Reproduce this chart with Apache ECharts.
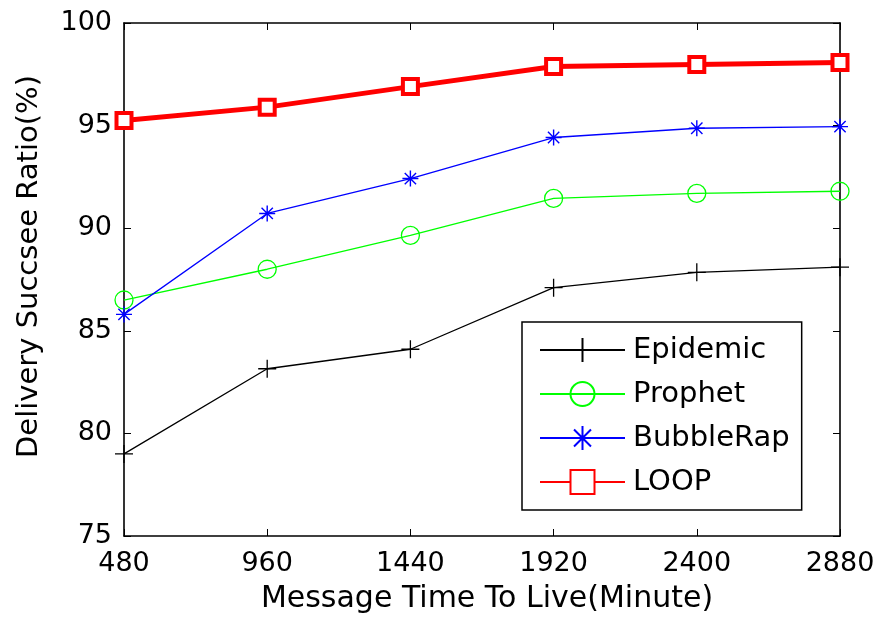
<!DOCTYPE html>
<html>
<head>
<meta charset="utf-8">
<script src="https://cdn.jsdelivr.net/npm/echarts@6/dist/echarts.min.js"></script>
<style>
  html, body { margin: 0; padding: 0; background: #fff; }
  #chart { width: 883px; height: 625px; }
</style>
</head>
<body>
<div id="chart"></div>
<script>
// Message time-to-live values (minutes) on the x axis
const ttl = [480, 960, 1440, 1920, 2400, 2880];

// Delivery success ratio (%) per routing scheme
const epidemic  = [79.0, 83.15, 84.1, 87.1, 87.85, 88.1];
const prophet   = [86.5, 88.0, 89.65, 91.45, 91.7, 91.8];
const bubbleRap = [85.8, 90.72, 92.42, 94.42, 94.87, 94.95];
const loop      = [95.25, 95.9, 96.9, 97.88, 97.98, 98.08];

const FONT = '"DejaVu Sans", "Liberation Sans", Arial, sans-serif';

// Stroked marker outlines
const plusPath = 'path://M0,-10L0,10M-10,0L10,0';
const starPath = 'path://M0,-10L0,10M-10,0L10,0M-7.07,-7.07L7.07,7.07M-7.07,7.07L7.07,-7.07';

const pair = arr => ttl.map((x, i) => [x, arr[i]]);

const tickStyle = { show: true, inside: true, length: 7, lineStyle: { color: '#000', width: 1 } };
const lineStyleAxis = { show: true, lineStyle: { color: '#000', width: 1.6 } };

const chart = echarts.init(document.getElementById('chart'), null, { renderer: 'canvas' });

chart.setOption({
  animation: false,
  backgroundColor: '#ffffff',
  textStyle: { fontFamily: FONT },
  grid: { left: 124, top: 23, right: 43, bottom: 89 },
  xAxis: [
    {
      type: 'value', min: 480, max: 2880, interval: 480, position: 'bottom',
      name: 'Message Time To Live(Minute)', nameLocation: 'middle', nameGap: 48,
      nameTextStyle: { fontSize: 30, color: '#000', fontFamily: FONT, padding: [0, 0, 0, 10] },
      axisLine: lineStyleAxis,
      axisTick: tickStyle,
      axisLabel: { fontSize: 27, color: '#000', margin: 14, fontFamily: FONT, formatter: v => String(v) },
      splitLine: { show: false }
    },
    {
      type: 'value', min: 480, max: 2880, interval: 480, position: 'top',
      axisLine: lineStyleAxis, axisTick: tickStyle,
      axisLabel: { show: false }, splitLine: { show: false }
    }
  ],
  yAxis: [
    {
      type: 'value', min: 75, max: 100, interval: 5, position: 'left',
      name: 'Delivery Succsee Ratio(%)', nameLocation: 'middle', nameGap: 80,
      nameTextStyle: { fontSize: 29, color: '#000', fontFamily: FONT, padding: [0, 0, 0, 26] },
      axisLine: lineStyleAxis,
      axisTick: tickStyle,
      axisLabel: { fontSize: 27, color: '#000', margin: 12, fontFamily: FONT },
      splitLine: { show: false }
    },
    {
      type: 'value', min: 75, max: 100, interval: 5, position: 'right',
      axisLine: lineStyleAxis, axisTick: tickStyle,
      axisLabel: { show: false }, splitLine: { show: false }
    }
  ],
  legend: {
    orient: 'vertical', left: 522, top: 322,
    backgroundColor: '#fff',
    borderColor: '#000', borderWidth: 1.5,
    padding: [13, 12, 13, 17],
    itemGap: 14, itemWidth: 85, itemHeight: 30,
    textStyle: { fontSize: 29, color: '#000', fontFamily: FONT, padding: [0, 0, 0, 3], lineHeight: 30 },
    data: ['Epidemic', 'Prophet', 'BubbleRap', 'LOOP']
  },
  series: [
    {
      name: 'Epidemic', type: 'line', data: pair(epidemic),
      symbol: plusPath, symbolSize: 18,
      lineStyle: { color: '#000', width: 1.3 },
      itemStyle: { color: 'rgba(0,0,0,0)', borderColor: '#000', borderWidth: 1.3 },
      z: 2
    },
    {
      name: 'Prophet', type: 'line', data: pair(prophet),
      symbol: 'circle', symbolSize: 18,
      lineStyle: { color: '#00ff00', width: 1.3 },
      itemStyle: { color: 'rgba(0,0,0,0)', borderColor: '#00ff00', borderWidth: 1.3 },
      z: 3
    },
    {
      name: 'BubbleRap', type: 'line', data: pair(bubbleRap),
      symbol: starPath, symbolSize: 16,
      lineStyle: { color: '#0000ff', width: 1.3 },
      itemStyle: { color: 'rgba(0,0,0,0)', borderColor: '#0000ff', borderWidth: 1.4 },
      z: 4
    },
    {
      name: 'LOOP', type: 'line', data: pair(loop),
      symbol: 'rect', symbolSize: 15,
      lineStyle: { color: '#ff0000', width: 5 },
      itemStyle: { color: '#ffffff', borderColor: '#ff0000', borderWidth: 4 },
      z: 5
    }
  ]
});
</script>
</body>
</html>
